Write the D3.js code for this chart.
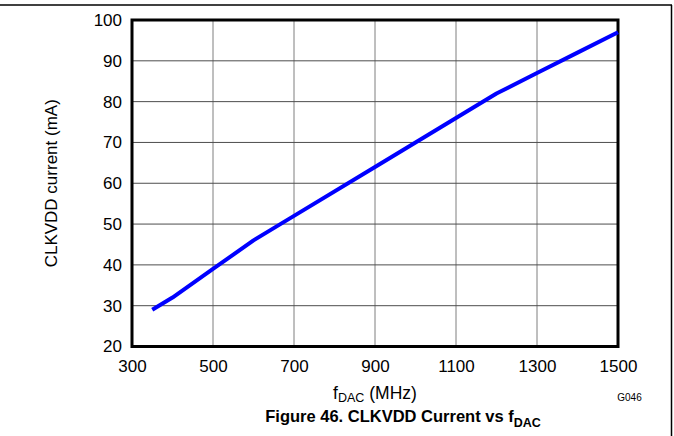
<!DOCTYPE html>
<html><head><meta charset="utf-8">
<script src="https://cdn.jsdelivr.net/npm/d3@7/dist/d3.min.js"></script>
<style>body{margin:0;background:#fff}svg{display:block;font-family:"Liberation Sans",Arial,sans-serif}</style>
</head><body><svg id="c" width="674" height="436"></svg>
<script>
const freqMHz = [350, 400, 500, 600, 700, 900, 1100, 1200, 1300, 1400, 1500];
const currentMA = [29, 32, 39, 46, 52, 64, 76, 82, 87, 92, 97];
const xTicks = [300, 500, 700, 900, 1100, 1300, 1500];
const yTicks = [20, 30, 40, 50, 60, 70, 80, 90, 100];

const svg = d3.select("#c");
const L = 132, R = 618, T = 20, B = 346.5;
const x = d3.scaleLinear().domain([300, 1500]).range([L, R]);
const y = d3.scaleLinear().domain([20, 100]).range([B, T]);
const FF = "Liberation Sans, Arial, sans-serif";

// outer frame
svg.append("line").attr("x1",0).attr("x2",672).attr("y1",5).attr("y2",5).attr("stroke","#000").attr("stroke-width",1.5);
svg.append("line").attr("x1",671.5).attr("x2",671.5).attr("y1",5).attr("y2",436).attr("stroke","#000").attr("stroke-width",1.5);

// grid
svg.append("g").selectAll("line").data(xTicks).join("line")
  .attr("x1",d=>x(d)).attr("x2",d=>x(d)).attr("y1",T).attr("y2",B)
  .attr("stroke","#7f7f7f").attr("stroke-width",1);
svg.append("g").selectAll("line").data(yTicks).join("line")
  .attr("x1",L).attr("x2",R).attr("y1",d=>y(d)).attr("y2",d=>y(d))
  .attr("stroke","#4d4d4d").attr("stroke-width",1);

// axes with d3 for labels
const xa = svg.append("g").attr("transform",`translate(0,${B})`)
  .call(d3.axisBottom(x).tickValues(xTicks).tickSize(0).tickPadding(13).tickFormat(d3.format("d")));
xa.select(".domain").remove();
xa.selectAll("text").attr("font-size",17).attr("fill","#000").attr("font-family",FF);
const ya = svg.append("g").attr("transform",`translate(${L},0)`)
  .call(d3.axisLeft(y).tickValues(yTicks).tickSize(0).tickPadding(10).tickFormat(d3.format("d")));
ya.select(".domain").remove();
ya.selectAll("text").attr("font-size",17).attr("fill","#000").attr("font-family",FF);

// plot frame
svg.append("rect").attr("x",L).attr("y",T).attr("width",R-L).attr("height",B-T)
  .attr("fill","none").attr("stroke","#000").attr("stroke-width",3);

// data line
const line = d3.line().x((d,i)=>x(freqMHz[i])).y(d=>y(d));
svg.append("path").datum(currentMA).attr("d",line)
  .attr("fill","none").attr("stroke","#0000ff").attr("stroke-width",4).attr("stroke-linejoin","round");

// y title
svg.append("text").attr("transform",`translate(57,${(T+B)/2}) rotate(-90)`)
  .attr("text-anchor","middle").attr("font-size",17).text("CLKVDD current (mA)");

// x title
const xt = svg.append("text").attr("x",375).attr("y",399).attr("text-anchor","middle").attr("font-size",17.5);
xt.append("tspan").text("f");
xt.append("tspan").attr("font-size",12.5).attr("dy",3).text("DAC");
xt.append("tspan").attr("dy",-3).text(" (MHz)");

// G046
svg.append("text").attr("x",629.5).attr("y",401).attr("text-anchor","middle").attr("font-size",10).text("G046");

// caption
const cap = svg.append("text").attr("x",403).attr("y",422).attr("text-anchor","middle")
  .attr("font-size",16.5).attr("font-weight","bold");
cap.append("tspan").text("Figure 46. CLKVDD Current vs f");
cap.append("tspan").attr("font-size",12.5).attr("dy",5).text("DAC");
</script></body></html>
